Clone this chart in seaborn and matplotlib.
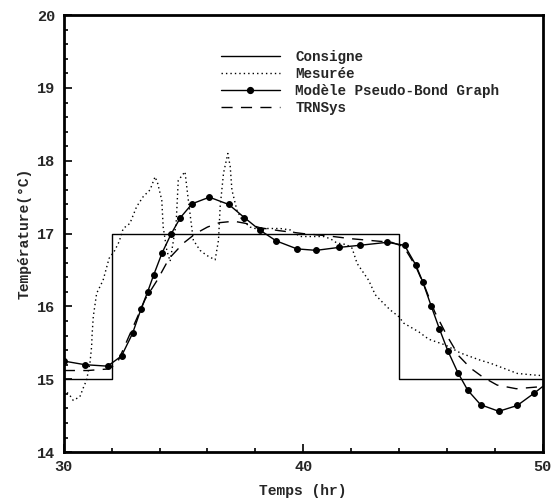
import matplotlib
matplotlib.use("Agg")
import matplotlib.pyplot as plt
import seaborn as sns
from matplotlib.ticker import MultipleLocator
from matplotlib.lines import Line2D

# ---- data ----
consigne_t = [30, 32, 32, 44, 44, 50]
consigne_T = [15, 15, 17, 17, 15, 15]

mesure_t = [30.0, 30.04, 30.25, 30.39, 30.67, 30.81, 30.95, 31.09, 31.16, 31.18, 31.23, 31.37,
            31.64, 31.79, 31.89, 32.13, 32.31, 32.48, 32.76, 33.04, 33.32, 33.6, 33.81, 33.92,
            34.09, 34.15, 34.3, 34.44, 34.69, 34.78, 35.06, 35.2, 35.34, 35.41, 35.69, 35.97,
            36.32, 36.46, 36.53, 36.67, 36.85, 36.95, 37.02, 37.23, 37.44, 37.78, 38.2, 38.48,
            39.04, 39.46, 39.87, 40.29, 40.85, 41.13, 41.41, 41.8, 42.04, 42.25, 42.73, 43.01,
            43.36, 43.64, 43.99, 44.2, 44.83, 45.24, 45.94, 46.57, 47.41, 47.82, 48.38, 48.94,
            49.57, 50.0]
mesure_T = [14.86, 14.85, 14.78, 14.71, 14.76, 14.88, 14.99, 15.22, 15.45, 15.61, 15.86, 16.18,
            16.36, 16.54, 16.66, 16.77, 16.89, 17.07, 17.14, 17.37, 17.51, 17.60, 17.78, 17.69,
            17.46, 17.09, 16.77, 16.62, 17.14, 17.73, 17.85, 17.46, 17.09, 16.91, 16.77, 16.70,
            16.64, 16.91, 17.37, 17.83, 18.10, 17.92, 17.60, 17.32, 17.19, 17.09, 17.05, 17.07,
            17.07, 17.05, 16.96, 16.96, 16.96, 16.93, 16.87, 16.85, 16.80, 16.59, 16.36, 16.16,
            16.04, 15.95, 15.86, 15.77, 15.65, 15.55, 15.47, 15.36, 15.26, 15.22, 15.15, 15.08,
            15.06, 15.05]

pbg_t = [30.0, 30.88, 31.83, 32.41, 32.87, 33.23, 33.50, 33.75, 34.11, 34.49, 34.87, 35.36,
         36.08, 36.89, 37.54, 38.18, 38.87, 39.74, 40.54, 41.48, 42.38, 43.50, 44.23, 44.70,
         44.99, 45.34, 45.69, 46.04, 46.46, 46.87, 47.41, 48.17, 48.94, 49.65]
pbg_T = [15.25, 15.20, 15.18, 15.32, 15.63, 15.97, 16.20, 16.43, 16.74, 17.00, 17.22, 17.41,
         17.50, 17.40, 17.22, 17.05, 16.90, 16.79, 16.77, 16.81, 16.84, 16.88, 16.84, 16.57,
         16.34, 16.01, 15.69, 15.39, 15.09, 14.85, 14.65, 14.56, 14.64, 14.81]
pbg_line_t = pbg_t + [50.0]
pbg_line_T = pbg_T + [14.90]

trn_t = [30.0, 31.0, 31.8, 32.2, 32.6, 33.0, 33.4, 33.9, 34.4, 35.0, 35.5, 36.0, 36.5, 37.1,
         37.6, 38.2, 39.0, 40.0, 41.0, 42.0, 43.0, 43.7, 44.2, 44.7, 45.1, 45.5, 46.0, 46.5,
         47.0, 47.5, 48.1, 48.9, 50.0]
trn_T = [15.12, 15.12, 15.14, 15.2, 15.5, 15.8, 16.1, 16.36, 16.66, 16.87, 17.0, 17.09, 17.15,
         17.17, 17.14, 17.08, 17.04, 17.0, 16.97, 16.93, 16.9, 16.88, 16.82, 16.55, 16.25, 15.92,
         15.6, 15.32, 15.15, 15.03, 14.92, 14.87, 14.9]

labels = ["Consigne", "Mesurée", "Modèle Pseudo-Bond Graph", "TRNSys"]

# ---- plot ----
sns.set_theme(style="white")
plt.rcParams['font.family'] = ['Liberation Mono', 'DejaVu Sans Mono']
plt.rcParams['font.weight'] = 'bold'

fig = plt.figure(figsize=(5.6, 5.04), dpi=100)
ax = fig.add_axes([0.114, 0.103, 0.855, 0.867])

kw = dict(ax=ax, sort=False, estimator=None, color="black", legend=False)
dotted = (0, (1, 2.2))
dashed = (0, (8, 6))
sns.lineplot(x=consigne_t, y=consigne_T, lw=1.0, **kw)
sns.lineplot(x=mesure_t, y=mesure_T, lw=1.0, linestyle=dotted, **kw)
sns.lineplot(x=pbg_line_t, y=pbg_line_T, lw=1.0, **kw)
sns.lineplot(x=pbg_t, y=pbg_T, lw=0, marker="o", markersize=4.2, markeredgecolor="black", **kw)
sns.lineplot(x=trn_t, y=trn_T, lw=1.0, linestyle=dashed, **kw)

ax.set_xlim(30, 50)
ax.set_ylim(14, 20)
ax.xaxis.set_major_locator(MultipleLocator(10))
ax.xaxis.set_minor_locator(MultipleLocator(2))
ax.yaxis.set_major_locator(MultipleLocator(1))
ax.yaxis.set_minor_locator(MultipleLocator(0.2))
ax.tick_params(which="both", direction="in", top=False, right=False, bottom=True, left=True,
               labelsize=11, width=1.2, color="black", pad=6)
ax.tick_params(which="major", length=6)
ax.tick_params(which="minor", length=3)
for s in ax.spines.values():
    s.set_linewidth(2.0)
    s.set_color("black")
ax.grid(False)

ax.set_xlabel("Temps (hr)", fontsize=10.5, fontweight="bold", labelpad=7)
ax.set_ylabel("Température(°C)", fontsize=10.5, fontweight="bold", labelpad=4)

handles = [
    Line2D([], [], color="black", lw=1.0),
    Line2D([], [], color="black", lw=1.0, linestyle=dotted),
    Line2D([], [], color="black", lw=1.0, marker="o", markersize=4.2),
    Line2D([], [], color="black", lw=1.0, linestyle=dashed),
]
ax.legend(handles, labels, loc="upper left", bbox_to_anchor=(0.303, 0.948), frameon=False,
          handlelength=4.1, handletextpad=1.1, labelspacing=0.22, borderpad=0.35,
          prop={"family": "Liberation Mono", "weight": "bold", "size": 10.3})

fig.savefig("out.png", dpi=100)
